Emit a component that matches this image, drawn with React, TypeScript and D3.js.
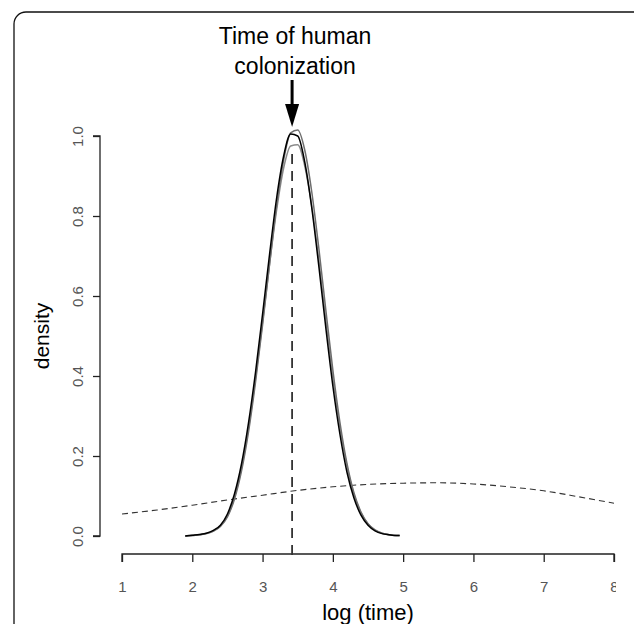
import React, { useRef, useEffect } from 'react';
import * as d3 from 'd3';

// density estimates
const kdeX = [1.9, 2.0, 2.1, 2.2, 2.3, 2.4, 2.5, 2.6, 2.7, 2.8, 2.9, 3.0, 3.1, 3.2, 3.3, 3.4, 3.5, 3.6, 3.7, 3.8, 3.9, 4.0, 4.1, 4.2, 4.3, 4.4, 4.5, 4.6, 4.7, 4.8, 4.9, 4.95];
const runA = [0.0, 0.002, 0.004, 0.007, 0.014, 0.027, 0.055, 0.105, 0.18, 0.283, 0.41, 0.555, 0.705, 0.845, 0.95, 1.005, 1.0, 0.935, 0.82, 0.675, 0.52, 0.375, 0.255, 0.16, 0.095, 0.052, 0.027, 0.013, 0.006, 0.003, 0.001, 0.001];
const runB = [0.0, 0.001, 0.003, 0.006, 0.012, 0.024, 0.048, 0.092, 0.162, 0.26, 0.385, 0.528, 0.68, 0.825, 0.94, 1.008, 1.015, 0.965, 0.86, 0.72, 0.565, 0.415, 0.285, 0.182, 0.108, 0.06, 0.031, 0.015, 0.007, 0.003, 0.001, 0.001];
const runC = [0.0, 0.001, 0.003, 0.006, 0.012, 0.025, 0.05, 0.097, 0.17, 0.27, 0.395, 0.535, 0.68, 0.815, 0.92, 0.975, 0.978, 0.925, 0.825, 0.69, 0.54, 0.395, 0.272, 0.175, 0.104, 0.058, 0.03, 0.015, 0.007, 0.003, 0.001, 0.001];

// broad prior (dashed)
const priorX = [1.0, 1.5, 2.0, 2.5, 3.0, 3.5, 4.0, 4.5, 5.0, 5.5, 6.0, 6.5, 7.0, 7.5, 8.0];
const priorY = [0.055, 0.065, 0.077, 0.09, 0.102, 0.114, 0.123, 0.129, 0.132, 0.133, 0.13, 0.123, 0.113, 0.098, 0.082];

const xTicks = [1, 2, 3, 4, 5, 6, 7, 8];
const yTicks = [0, 0.2, 0.4, 0.6, 0.8, 1.0];
const colonization = 3.42;
const titleLines = ['Time of human', 'colonization'];

const App = () => {
  const svgRef = useRef<SVGSVGElement>(null);

  useEffect(() => {
    const svg = d3.select(svgRef.current);
    svg.selectAll('*').remove();

    const font = '"Liberation Sans", Arial, sans-serif';
    const x = d3.scaleLinear().domain([1, 8]).range([122, 614]);
    const y = d3.scaleLinear().domain([0, 1]).range([536, 136]);
    const axisY = 554;
    const axisX = 100;

    // frame
    svg.append('rect')
      .attr('x', 14).attr('y', 12)
      .attr('width', 640).attr('height', 700)
      .attr('rx', 12)
      .attr('fill', 'none')
      .attr('stroke', '#111')
      .attr('stroke-width', 1.3);

    svg.append('clipPath').attr('id', 'plotclip')
      .append('rect').attr('x', 0).attr('y', 0).attr('width', 616).attr('height', 624);

    const g = svg.append('g').attr('clip-path', 'url(#plotclip)');

    // x axis
    const xAxis = g.append('g')
      .attr('transform', `translate(0,${axisY})`)
      .call(d3.axisBottom(x).tickValues(xTicks).tickSize(8).tickPadding(19).tickFormat(d3.format('d')));
    xAxis.select('.domain').attr('d', `M${x(1)},8V0H${x(8)}V8`).attr('stroke', '#222').attr('stroke-width', 1.3);
    xAxis.selectAll('line').attr('stroke', '#222').attr('stroke-width', 1.3);
    xAxis.selectAll('text').style('font-family', font).style('font-size', '15px').attr('fill', '#555');

    // y axis
    const yAxis = g.append('g')
      .attr('transform', `translate(${axisX},0)`)
      .call(d3.axisLeft(y).tickValues(yTicks).tickSize(7).tickFormat(d3.format('.1f')));
    yAxis.select('.domain').attr('d', `M-7,${y(1)}H0V${y(0)}H-7`).attr('stroke', '#222').attr('stroke-width', 1.3);
    yAxis.selectAll('line').attr('stroke', '#222').attr('stroke-width', 1.3);
    yAxis.selectAll('text')
      .attr('x', null).attr('dy', null)
      .attr('transform', 'translate(-23,0) rotate(-90)')
      .attr('text-anchor', 'middle')
      .attr('dominant-baseline', 'central')
      .style('font-family', font).style('font-size', '15px').attr('fill', '#555');

    // prior curve
    const line = d3.line<[number, number]>()
      .x(d => x(d[0]))
      .y(d => y(d[1]))
      .curve(d3.curveMonotoneX);

    g.append('path')
      .attr('d', line(priorX.map((v, i) => [v, priorY[i]])))
      .attr('fill', 'none')
      .attr('stroke', '#333')
      .attr('stroke-width', 1.1)
      .attr('stroke-dasharray', '6,4');

    // posterior densities
    const runs = [
      { values: runC, color: '#8a8a8a' },
      { values: runB, color: '#6e6e6e' },
      { values: runA, color: '#000' }
    ];
    runs.forEach(r => {
      g.append('path')
        .attr('d', line(kdeX.map((v, i) => [v, r.values[i]])))
        .attr('fill', 'none')
        .attr('stroke', r.color)
        .attr('stroke-width', 1.5);
    });

    // colonization marker
    g.append('line')
      .attr('x1', x(colonization)).attr('x2', x(colonization))
      .attr('y1', y(0.955)).attr('y2', axisY + 6)
      .attr('stroke', '#333')
      .attr('stroke-width', 1.8)
      .attr('stroke-dasharray', '10,7');

    // arrow
    const ax = x(colonization);
    svg.append('line')
      .attr('x1', ax).attr('x2', ax)
      .attr('y1', 80).attr('y2', 108)
      .attr('stroke', '#000').attr('stroke-width', 3);
    svg.append('path')
      .attr('d', `M${ax - 7},104L${ax + 7},104L${ax},127Z`)
      .attr('fill', '#000');

    svg.selectAll('.title')
      .data(titleLines)
      .enter()
      .append('text')
      .attr('class', 'title')
      .attr('x', ax + 3)
      .attr('y', (d, i) => 44 + i * 30)
      .attr('text-anchor', 'middle')
      .style('font-family', font)
      .style('font-size', '23px')
      .attr('fill', '#000')
      .text(d => d);

    // axis labels
    svg.append('text')
      .attr('x', (x(1) + x(8)) / 2)
      .attr('y', 620)
      .attr('text-anchor', 'middle')
      .style('font-family', font)
      .style('font-size', '22px')
      .text('log (time)');

    svg.append('text')
      .attr('transform', `translate(49,${(y(0) + y(1)) / 2}) rotate(-90)`)
      .attr('text-anchor', 'middle')
      .style('font-family', font)
      .style('font-size', '21px')
      .text('density');
  }, []);

  return (
    <svg
      ref={svgRef}
      width={634}
      height={624}
      style={{ position: 'absolute', left: 0, top: 0, display: 'block', background: '#fff' }}
    />
  );
};

export default App;
